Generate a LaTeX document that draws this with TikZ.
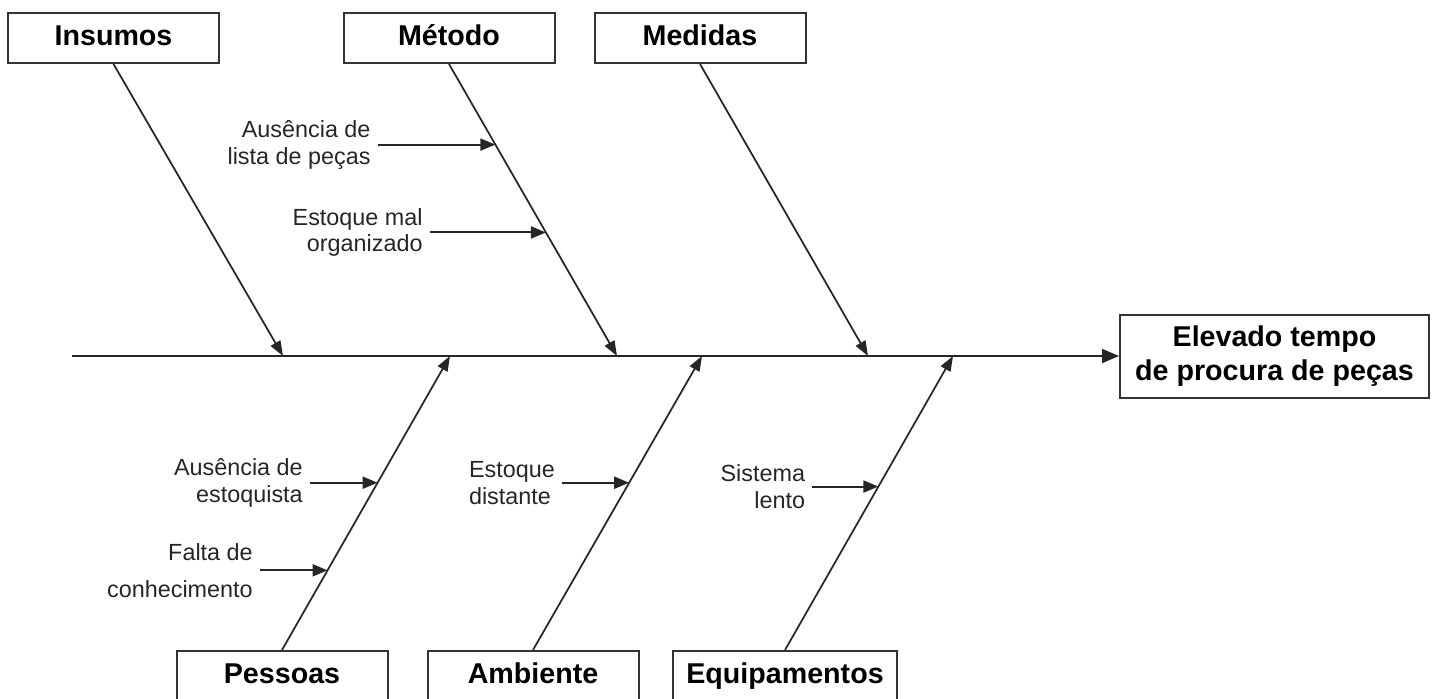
\documentclass[tikz,border=0pt]{standalone}
\usepackage{fontspec}
\setmainfont{Liberation Sans}
\usetikzlibrary{arrows.meta,positioning,calc}

\begin{document}
\begin{tikzpicture}[x=0.2mm,y=-0.2mm,
      box_base/.style={
         draw=black!80,
         fill=white,
         line width=0.4mm,
         font=\fontsize{16.3}{19.8}\selectfont\bfseries},
      box_cat/.style={
         box_base,
         minimum width=42.2mm,
         minimum height=10mm,
         inner xsep=2.7mm,
         text height=12pt,
         text depth=3.5pt},
      box_effect/.style={
         box_base,
         minimum width=61.8mm,
         minimum height=16.6mm,
         align=center},
      text_cause/.style={
         text=black!85,
         inner xsep=1.4mm,
         inner ysep=0.5mm,
         font=\fontsize{13.3}{15.3}\selectfont},
      arrow_bone/.style={
         -{Triangle[length=3mm,width=2.2mm]},
         line width=0.35mm,
         draw=black!85},
      arrow_cause/.style={
         -{Triangle[length=3mm,width=2.4mm]},
         line width=0.4mm,
         draw=black!85}
]
      \useasboundingbox (0,0) rectangle (1434,698);

      %spine
      \coordinate (tail) at (72,356);
      \node[box_effect] (efeito) at (1274.5,356) {Elevado tempo\\de procura de peças};
      \draw[arrow_bone,-{Triangle[length=3.4mm,width=2.8mm]}] (tail) -- (efeito);

      \foreach \n/\x in {s1/283, s2/617, s3/868, s4/450, s5/702, s6/953}
        \coordinate (\n) at (\x,356);

      %categories
      \node[box_cat] (ins) at (113.5,38) {Insumos};
      \node[box_cat] (met) at (449,38) {Método};
      \node[box_cat] (med) at (700,38) {Medidas};

      \node[box_cat] (pes) at (282,676) {Pessoas};
      \node[box_cat] (amb) at (533,676) {Ambiente};
      \node[box_cat] (equ) at (785,676) {Equipamentos};

    \foreach \i/\j in {% start node/end node
      ins.south/s1, met.south/s2, med.south/s3,
      pes.north/s4, amb.north/s5, equ.north/s6}
    \draw [arrow_bone] (\i) -- (\j);

      %causes
      \coordinate (c1) at ($(met.south)!0.276!(s2)$);
      \coordinate (c2) at ($(met.south)!0.577!(s2)$);
      \coordinate (c3) at ($(pes.north)!0.569!(s4)$);
      \coordinate (c4) at ($(pes.north)!0.271!(s4)$);
      \coordinate (c5) at ($(amb.north)!0.569!(s5)$);
      \coordinate (c6) at ($(equ.north)!0.556!(s6)$);

    \foreach \c/\n/\d/\al/\txt in {% end point/name/length/alignment/text
      c1/lista/23.5mm/right/{Ausência de\\lista de peças},
      c2/estoque/23.2mm/right/{Estoque mal\\organizado},
      c3/estoquista/13.5mm/right/{Ausência de\\estoquista},
      c4/falta/13.5mm/right/{Falta de\\[2mm]conhecimento},
      c5/distante/13.4mm/left/{Estoque\\distante},
      c6/sistema/13.2mm/right/{Sistema\\lento}}
    {
      \node[text_cause, align=\al, left=\d of \c] (\n) {\txt};
      \draw [arrow_cause] (\n) -- (\c);
    }

\end{tikzpicture}
\end{document}
